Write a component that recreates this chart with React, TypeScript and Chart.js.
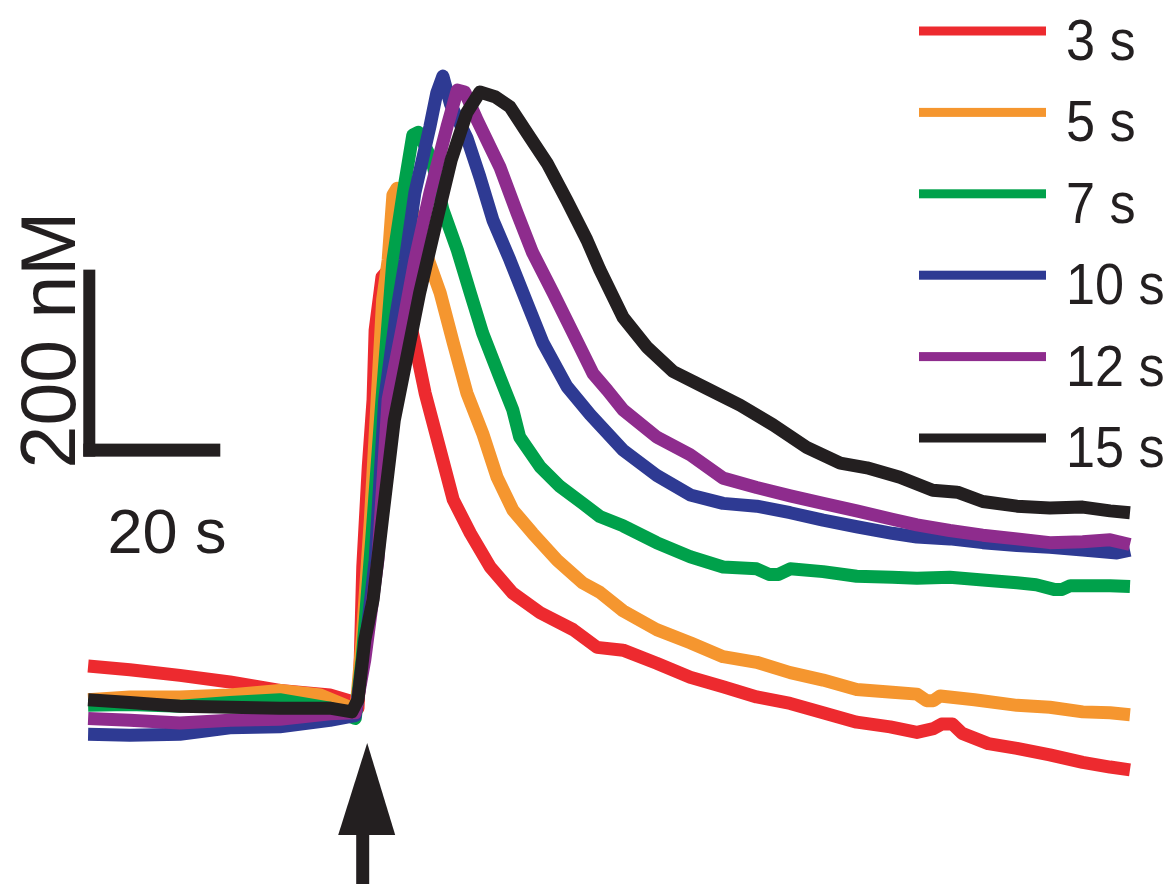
import React, { useEffect, useRef } from "react";
import { Chart, registerables } from "chart.js";

Chart.register(...registerables);

// time (s, stimulus at 0) , [Ca2+] (nM)
const LABELS = ["3 s", "5 s", "7 s", "10 s", "12 s", "15 s"];
const COLORS = ["#ED2A2F", "#F5962F", "#00A14B", "#2E3A93", "#8E2C8D", "#231F20"];

const TRACE_3S: [number, number][] = [
  [-39.4, 147], [-33.3, 143], [-26.0, 137], [-18.7, 130], [-11.4, 121], [-4.1, 116], [-0.9, 109], [0.0, 102],
  [0.3, 146], [0.7, 253], [1.5, 360], [2.2, 432], [2.5, 506], [3.5, 563], [4.7, 573], [6.9, 538], [8.3, 492],
  [9.8, 439], [12.0, 378], [13.9, 325], [16.4, 289], [19.3, 253], [22.6, 225], [26.6, 204], [31.4, 186],
  [34.9, 167], [38.7, 164], [43.6, 150], [48.5, 135], [53.3, 125], [58.2, 114], [63.1, 107], [67.9, 97],
  [72.8, 87], [77.7, 82], [81.6, 76], [84.0, 80], [85.2, 85], [86.8, 85], [88.2, 75], [92.0, 64], [96.2, 59],
  [101.0, 52], [105.8, 44], [109.8, 39], [112.7, 36],
];

const TRACE_5S: [number, number][] = [
  [-39.4, 111], [-33.3, 114], [-26.0, 114], [-18.7, 116], [-11.4, 121], [-5.5, 116], [-1.9, 105], [-0.3, 100],
  [0.6, 175], [1.8, 303], [2.8, 432], [3.6, 539], [4.4, 581], [5.1, 651], [5.7, 658], [6.6, 651], [8.3, 629],
  [10.1, 585], [12.0, 546], [13.9, 493], [15.9, 439], [18.2, 396], [20.3, 349], [22.6, 314], [25.5, 289],
  [29.1, 260], [32.8, 236], [35.3, 226], [38.7, 206], [43.6, 186], [48.5, 172], [53.3, 157], [58.2, 151],
  [63.1, 140], [67.9, 132], [72.8, 122], [78.0, 119], [81.6, 117], [83.0, 110], [84.0, 110], [85.0, 115],
  [90.0, 111], [96.2, 105], [101.0, 103], [105.8, 98], [109.8, 97], [112.7, 95],
];

const TRACE_7S: [number, number][] = [
  [-39.4, 105], [-33.3, 106], [-26.0, 104], [-18.7, 108], [-11.4, 111], [-4.1, 102], [-0.4, 91],
  [0.6, 154], [2.0, 282], [3.5, 432], [5.1, 581], [6.6, 653], [8.0, 715], [8.8, 718], [10.8, 688],
  [12.4, 635], [14.5, 592], [16.4, 546], [18.2, 503], [20.7, 456], [22.6, 421], [23.6, 392], [26.6, 360],
  [29.5, 339], [32.8, 321], [35.3, 307], [38.7, 297], [43.6, 279], [48.5, 264], [53.3, 253], [58.2, 251],
  [60.0, 245], [61.4, 245], [63.1, 251], [67.9, 248], [72.8, 243], [78.0, 242], [81.6, 241], [86.4, 242],
  [91.2, 239], [96.2, 236], [99.0, 234], [101.6, 229], [102.8, 229], [104.0, 233], [109.8, 233], [112.7, 232],
];

const TRACE_10S: [number, number][] = [
  [-39.4, 74], [-33.3, 73], [-26.0, 74], [-18.7, 81], [-11.4, 82], [-4.1, 89], [-0.4, 94],
  [1.0, 164], [2.5, 260], [3.9, 432], [5.5, 520], [6.9, 581], [8.3, 653], [10.5, 724], [11.5, 760],
  [12.4, 778], [13.5, 748], [14.5, 733], [15.9, 712], [17.8, 670], [19.7, 624], [22.2, 581], [24.7, 535],
  [27.0, 493], [30.5, 446], [33.9, 416], [38.7, 378], [43.6, 351], [48.5, 330], [53.3, 321], [58.2, 318],
  [63.1, 311], [67.9, 303], [72.8, 296], [78.0, 289], [81.6, 285], [86.4, 283], [91.2, 279], [96.2, 276],
  [101.0, 274], [105.8, 271], [110.8, 268], [112.7, 271],
];

const TRACE_12S: [number, number][] = [
  [-39.4, 91], [-33.3, 89], [-26.0, 86], [-18.7, 89], [-11.4, 90], [-4.1, 96], [-0.4, 97],
  [1.0, 154], [2.9, 260], [4.4, 432], [6.5, 510], [8.3, 581], [10.5, 653], [13.0, 724], [14.5, 763],
  [15.6, 761], [17.4, 731], [20.7, 681], [23.2, 632], [25.5, 589], [28.5, 546], [31.4, 503], [34.3, 460],
  [36.4, 442], [38.7, 421], [43.6, 392], [48.5, 373], [53.3, 348], [58.2, 338], [63.1, 329], [67.9, 321],
  [72.8, 313], [78.0, 304], [81.6, 298], [86.4, 292], [91.2, 287], [96.2, 283], [101.0, 279], [105.8, 280],
  [109.8, 282], [112.7, 277],
];

const TRACE_15S: [number, number][] = [
  [-39.4, 111], [-33.3, 108], [-26.0, 104], [-18.7, 103], [-11.4, 102], [-4.1, 102], [-0.9, 98], [0.0, 111],
  [1.0, 175], [2.2, 218], [3.6, 306], [5.3, 410], [9.0, 546], [11.5, 624], [13.6, 688], [15.9, 739],
  [17.8, 761], [20.0, 756], [22.2, 745], [24.7, 717], [27.6, 685], [30.5, 645], [33.4, 603], [35.3, 571],
  [38.7, 520], [42.2, 488], [46.0, 462], [50.9, 444], [55.8, 426], [60.6, 405], [65.5, 381], [70.4, 364],
  [74.3, 359], [79.1, 349], [83.9, 335], [87.5, 333], [91.2, 323], [96.2, 318], [101.0, 316], [105.8, 317],
  [109.8, 313], [112.7, 311],
];

const TRACES = [TRACE_3S, TRACE_5S, TRACE_7S, TRACE_10S, TRACE_12S, TRACE_15S];

// scale bar: 20 s x 200 nM
const BAR_T0 = -40.1;
const BAR_C0 = 371;
const BAR_DT = 20;
const BAR_DC = 200;
const STIM_T = 1.2;

const X_MIN = -52.26;
const X_MAX = 118.98;
const Y_MIN = -86.1;
const Y_MAX = 859.4;

const FONT = '"Liberation Sans", Arial, Helvetica, sans-serif';
const INK = "#231F20";

const decorPlugin = {
  id: "decor",
  afterDraw(chart: any) {
    const { ctx } = chart;
    const xs = chart.scales.x;
    const ys = chart.scales.y;
    ctx.save();
    ctx.fillStyle = INK;

    // scale bar
    const bx0 = xs.getPixelForValue(BAR_T0);
    const bx1 = xs.getPixelForValue(BAR_T0 + BAR_DT);
    const byB = ys.getPixelForValue(BAR_C0);
    const byT = ys.getPixelForValue(BAR_C0 + BAR_DC);
    ctx.fillRect(bx0, byT, 12, byB - byT);
    ctx.fillRect(bx0, byB - 13, bx1 - bx0, 13);

    ctx.textBaseline = "alphabetic";
    ctx.textAlign = "center";
    ctx.font = `63px ${FONT}`;
    ctx.fillText("20 s", 167, 553);

    ctx.save();
    ctx.translate(75, 340);
    ctx.rotate(-Math.PI / 2);
    ctx.font = `77px ${FONT}`;
    ctx.fillText("200 nM", 0, 0);
    ctx.restore();

    // legend
    ctx.textAlign = "left";
    for (let i = 0; i < LABELS.length; i++) {
      const yl = 31 + i * 81.4;
      ctx.fillStyle = COLORS[i];
      ctx.fillRect(919, yl - 4.5, 127, 9);
      ctx.fillStyle = INK;
      ctx.save();
      ctx.translate(1066, yl + 29);
      ctx.scale(0.9, 1);
      ctx.font = `58px ${FONT}`;
      ctx.fillText(LABELS[i], 0, 0);
      ctx.restore();
    }

    // stimulus arrow
    const ax = xs.getPixelForValue(STIM_T);
    ctx.fillStyle = INK;
    ctx.beginPath();
    ctx.moveTo(ax + 1, 743);
    ctx.lineTo(ax + 29, 835);
    ctx.lineTo(ax - 28, 835);
    ctx.closePath();
    ctx.fill();
    ctx.fillRect(ax - 10, 834, 13, 60);
    ctx.restore();
  },
};

export default function App() {
  const ref = useRef<HTMLCanvasElement | null>(null);
  useEffect(() => {
    if (!ref.current) return;
    const datasets = TRACES.map((tr, i) => ({
      label: LABELS[i],
      data: tr.map(([x, y]) => ({ x, y })),
      borderColor: COLORS[i],
      backgroundColor: COLORS[i],
      borderWidth: 13,
      pointRadius: 0,
      tension: 0,
      fill: false,
      borderJoinStyle: "round" as const,
      borderCapStyle: "butt" as const,
      order: LABELS.length - 1 - i,
    }));
    const chart = new Chart(ref.current, {
      type: "line",
      data: { datasets },
      options: {
        responsive: false,
        animation: false,
        events: [],
        layout: { padding: 0 },
        scales: {
          x: { type: "linear", min: X_MIN, max: X_MAX, display: false },
          y: { type: "linear", min: Y_MIN, max: Y_MAX, display: false },
        },
        plugins: {
          legend: { display: false },
          tooltip: { enabled: false },
        },
      },
      plugins: [decorPlugin],
    });
    return () => chart.destroy();
  }, []);
  return (
    <div style={{ position: "absolute", left: 0, top: 0, width: 1173, height: 884, background: "#fff" }}>
      <canvas ref={ref} width={1173} height={884} style={{ display: "block" }} />
    </div>
  );
}
